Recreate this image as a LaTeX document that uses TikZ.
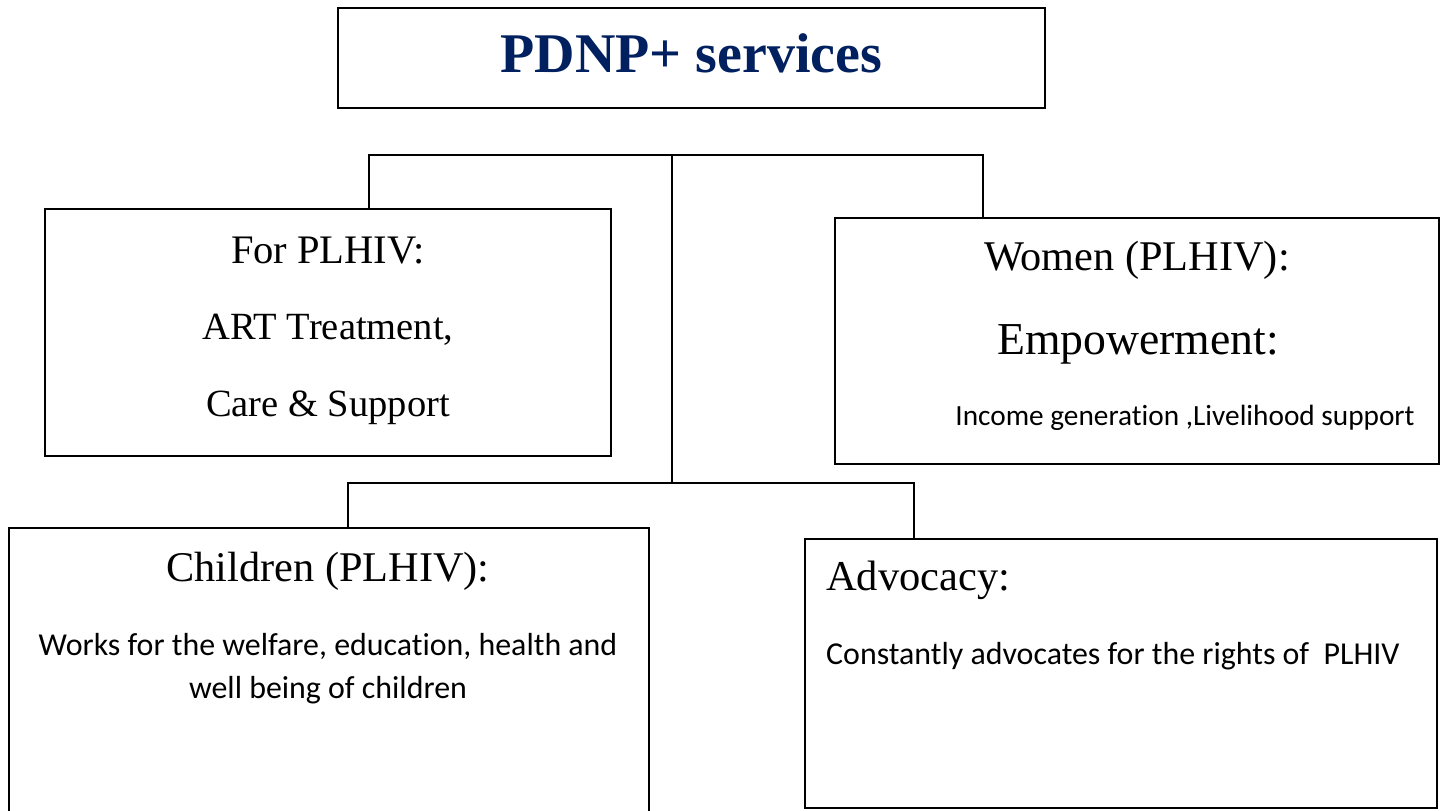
\documentclass[tikz,border=0pt]{standalone}
\usepackage{fontspec}
\setmainfont{Liberation Serif}
\newfontfamily\sansf[Ligatures=NoCommon]{Carlito}
\definecolor{navy}{RGB}{0,32,96}
\begin{document}
\begin{tikzpicture}[x=1pt,y=-1pt,
  box/.style={draw=black, line width=1.6pt, rectangle, inner sep=0pt},
  conn/.style={draw=black, line width=1.6pt},
  txt/.style={anchor=base, inner sep=0pt},
  fs/.style={font=\fontsize{#1}{#1}\selectfont},
  ss/.style={font=\sansf\fontsize{#1}{#1}\selectfont}]
\useasboundingbox (0,0) rectangle (1443,811);
\fill[white] (0,0) rectangle (1443,811);
% boxes
\node[box, minimum width=707pt, minimum height=100pt] (title) at (691.5,58) {};
\node[box, minimum width=566pt, minimum height=247pt] (plhiv) at (328,332.5) {};
\node[box, minimum width=604pt, minimum height=246pt] (women) at (1137,341) {};
\node[box, minimum width=640pt, minimum height=300pt] (children) at (329,678) {};
\node[box, minimum width=632pt, minimum height=269pt] (advocacy) at (1121,673.5) {};
% connectors
\coordinate (j1) at (672,155);
\coordinate (j2) at (672,483);
\coordinate (tl) at (369,155);
\coordinate (tr) at (983,155);
\coordinate (bl) at (348,483);
\coordinate (br) at (914,483);
\draw[conn] (plhiv.north -| tl) -- (tl) -- (tr) -- (women.north -| tr);
\draw[conn] (j1) -- (j2);
\draw[conn] (children.north -| bl) -- (bl) -- (br) -- (advocacy.north -| br);
% texts
\node[txt, font=\bfseries\fontsize{56}{56}\selectfont, text=navy] (ttl) at (691.5,72) {PDNP+ services};
\node[txt, fs=40.5] (p1) at (328,263) {For PLHIV:};
\node[txt, fs=38.5] (p2) at (328,339) {ART Treatment,};
\node[txt, fs=38.5] (p3) at (328,416) {Care \& Support};
\node[txt, fs=42.3] (w1) at (1137,270) {Women (PLHIV):};
\node[txt, fs=45.7] (w2) at (1138,354) {Empowerment:};
\node[txt, ss=29.3] (w3) at (1185,425) {Income generation ,Livelihood support};
\node[txt, fs=42.3] (c1) at (328,581) {Children (PLHIV):};
\node[txt, ss=31.9] (c2) at (328,655) {Works for the welfare, education, health and};
\node[txt, ss=31.9] (c3) at (328,698) {well being of children};
\node[txt, fs=42.5, anchor=base west] (a1) at (826,590) {Advocacy:};
\node[txt, ss=31.9, anchor=base west] (a2) at (826,664) {Constantly advocates for the rights of\ \ PLHIV};
\end{tikzpicture}
\end{document}
